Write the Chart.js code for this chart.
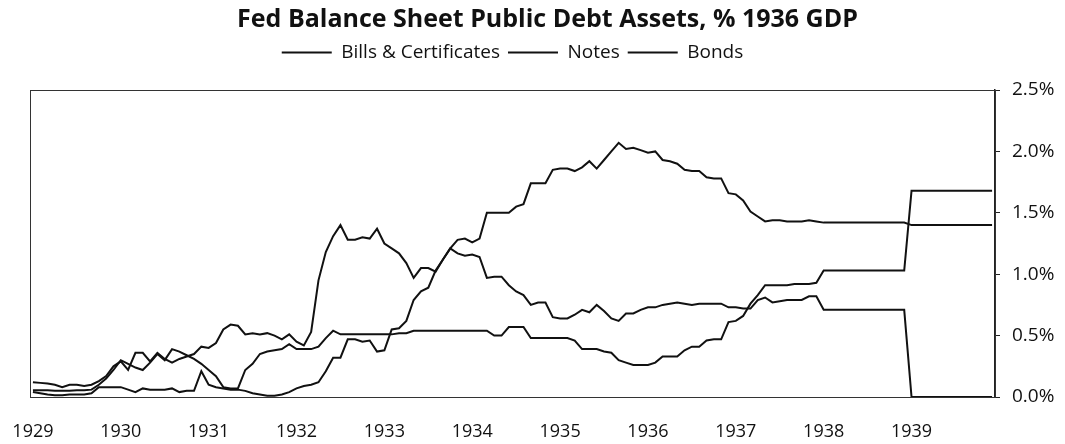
<!DOCTYPE html>
<html>
<head>
<meta charset="utf-8">
<script src="https://cdn.jsdelivr.net/npm/chart.js@4.4.1/dist/chart.umd.min.js"></script>
<style>
  html, body { margin: 0; padding: 0; background: #fff; }
  #wrap { width: 1065px; height: 444px; }
</style>
</head>
<body>
<div id="wrap"><canvas id="chart"></canvas></div>
<script>
// Fed holdings of public debt by type, % of 1936 GDP, monthly Jan 1929 - Dec 1939
const years = ['1929','1930','1931','1932','1933','1934','1935','1936','1937','1938','1939'];
const yTicks = [0, 0.5, 1.0, 1.5, 2.0, 2.5];

const bills = [
  .12,.115,.11,.10,.08,.10,.10,.09,.10,.13,.17,.25,          // 1929
  .29,.22,.36,.36,.29,.36,.31,.28,.31,.33,.35,.41,           // 1930
  .40,.44,.55,.59,.58,.51,.52,.51,.52,.50,.47,.51,           // 1931
  .45,.42,.53,.95,1.18,1.31,1.40,1.28,1.28,1.30,1.29,1.37,   // 1932
  1.25,1.21,1.17,1.09,.97,1.05,1.05,1.02,1.12,1.21,1.17,1.15,// 1933
  1.16,1.14,.97,.98,.98,.91,.86,.83,.75,.77,.77,.65,         // 1934
  .64,.64,.67,.71,.69,.75,.70,.64,.62,.68,.68,.71,           // 1935
  .73,.73,.75,.76,.77,.76,.75,.76,.76,.76,.76,.73,           // 1936
  .73,.72,.72,.79,.81,.77,.78,.79,.79,.79,.82,.82,           // 1937
  .71,.71,.71,.71,.71,.71,.71,.71,.71,.71,.71,.71,           // 1938
  0,0,0,0,0,0,0,0,0,0,0,0                                    // 1939
];
const notes = [
  .04,.03,.02,.015,.015,.02,.02,.02,.03,.08,.08,.08,
  .08,.06,.04,.07,.06,.06,.06,.07,.04,.05,.05,.21,
  .10,.08,.07,.06,.06,.05,.03,.02,.01,.01,.02,.04,
  .07,.09,.10,.12,.21,.32,.32,.47,.47,.45,.46,.37,
  .38,.55,.56,.62,.79,.86,.89,1.03,1.12,1.21,1.28,1.29,
  1.26,1.29,1.50,1.50,1.50,1.50,1.55,1.57,1.74,1.74,1.74,1.85,
  1.86,1.86,1.84,1.87,1.92,1.86,1.93,2.00,2.07,2.02,2.03,2.01,
  1.99,2.00,1.93,1.92,1.90,1.85,1.84,1.84,1.79,1.78,1.78,1.66,
  1.65,1.60,1.51,1.47,1.43,1.44,1.44,1.43,1.43,1.43,1.44,1.43,
  1.42,1.42,1.42,1.42,1.42,1.42,1.42,1.42,1.42,1.42,1.42,1.42,
  1.40,1.40,1.40,1.40,1.40,1.40,1.40,1.40,1.40,1.40,1.40,1.40
];
const bonds = [
  .055,.055,.055,.05,.05,.05,.055,.055,.06,.10,.15,.22,
  .30,.27,.24,.22,.28,.35,.30,.39,.37,.34,.31,.27,
  .22,.17,.08,.07,.07,.22,.27,.35,.37,.38,.39,.43,
  .39,.39,.39,.41,.48,.54,.51,.51,.51,.51,.51,.51,
  .51,.51,.52,.52,.54,.54,.54,.54,.54,.54,.54,.54,
  .54,.54,.54,.50,.50,.57,.57,.57,.48,.48,.48,.48,
  .48,.48,.46,.39,.39,.39,.37,.36,.30,.28,.26,.26,
  .26,.28,.33,.33,.33,.38,.41,.41,.46,.47,.47,.61,
  .62,.66,.76,.83,.91,.91,.91,.91,.92,.92,.92,.93,
  1.03,1.03,1.03,1.03,1.03,1.03,1.03,1.03,1.03,1.03,1.03,1.03,
  1.68,1.68,1.68,1.68,1.68,1.68,1.68,1.68,1.68,1.68,1.68,1.68
];

const FONT = "'Open Sans', 'DejaVu Sans', sans-serif";
const INK = '#111';

const series = (label, arr) => ({
  label,
  data: arr.map((v, i) => ({ x: i, y: v })),
  borderColor: INK,
  backgroundColor: INK,
  borderWidth: 2,
  pointRadius: 0,
  tension: 0
});

// thin box round the plot area; extra room under the legend
const frame = {
  id: 'frame',
  beforeInit(chart) {
    const lg = chart.legend;
    if (lg) {
      const fit = lg.fit.bind(lg);
      lg.fit = function(){ fit(); this.height += 18; };
    }
  },
  beforeDatasetsDraw(chart) {
    const a = chart.chartArea, c = chart.ctx;
    c.save();
    c.strokeStyle = '#333';
    c.lineWidth = 1;
    c.strokeRect(Math.round(a.left) + .5, Math.round(a.top) + .5, a.right - a.left, a.bottom - a.top);
    c.restore();
  }
};

new Chart(document.getElementById('chart'), {
  type: 'line',
  data: {
    datasets: [
      series('Bills & Certificates', bills),
      series('Notes', notes),
      series('Bonds', bonds)
    ]
  },
  options: {
    responsive: true,
    maintainAspectRatio: false,
    animation: false,
    layout: { padding: { left: 30, right: 0, top: 0, bottom: 0 } },
    plugins: {
      tooltip: { enabled: false },
      title: {
        display: true,
        text: 'Fed Balance Sheet Public Debt Assets, % 1936 GDP',
        color: INK,
        font: { family: FONT, size: 25, weight: 'bold' },
        padding: { top: 5, bottom: 0 }
      },
      legend: {
        display: true,
        position: 'top',
        fullSize: false,
        labels: {
          color: INK,
          font: { family: FONT, size: 19 },
          usePointStyle: true,
          pointStyle: 'line',
          pointStyleWidth: 50,
          padding: 8
        }
      }
    },
    scales: {
      x: {
        type: 'linear',
        min: -0.4,
        max: bills.length - 1 + 0.4,
        afterBuildTicks: s => { s.ticks = years.map((y, k) => ({ value: k * 12 })); },
        afterFit: s => { s.height = 47; s.paddingLeft = 0; s.paddingRight = 0; },
        grid: { display: false, drawTicks: false },
        border: { display: false },
        ticks: {
          autoSkip: false,
          maxRotation: 0,
          padding: 24,
          color: INK,
          font: { family: FONT, size: 18 },
          callback: v => years[Math.round(v / 12)]
        }
      },
      y: {
        position: 'right',
        min: 0,
        max: 2.5,
        afterBuildTicks: s => { s.ticks = yTicks.map(v => ({ value: v })); },
        afterFit: s => { s.width = 70; },
        grid: { drawOnChartArea: false, drawTicks: true, tickLength: 5, color: '#222' },
        border: { display: true, color: '#222', width: 1.5 },
        ticks: {
          padding: 12,
          color: INK,
          font: { family: FONT, size: 19 },
          callback: v => v.toFixed(1) + '%'
        }
      }
    }
  },
  plugins: [frame]
});
</script>
</body>
</html>
